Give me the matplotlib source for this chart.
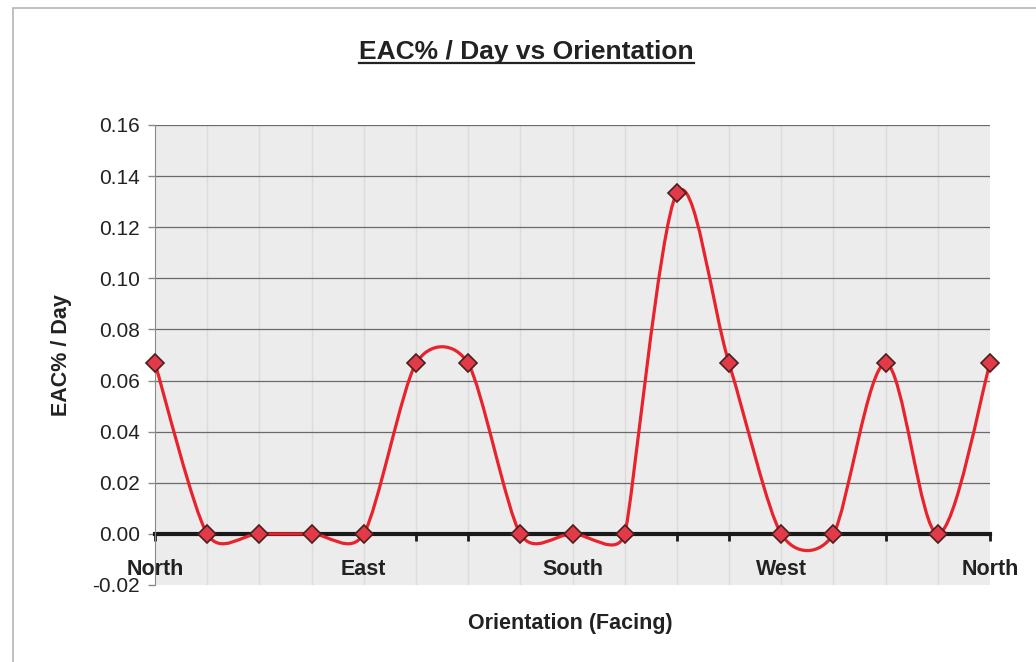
import numpy as np
import matplotlib.pyplot as plt
from matplotlib.path import Path
from matplotlib.patches import PathPatch, Rectangle
from matplotlib.lines import Line2D

# orientation steps (22.5 deg each), North -> North
positions = list(range(17))
eac_per_day = [0.0667, 0.0, 0.0, 0.0, 0.0, 0.0667, 0.0667, 0.0, 0.0, 0.0,
               0.1333, 0.0667, 0.0, 0.0, 0.0667, 0.0, 0.0667]
tick_names = {0: "North", 4: "East", 8: "South", 12: "West", 16: "North"}

plt.rcParams['font.family'] = ['Liberation Sans', 'DejaVu Sans']

X_LIM = (0, 16)
Y_LIM = (-0.02, 0.16)
AX_W, AX_H = 835, 460  # axes size in pixels


def smooth_path(xs, ys):
    # excel-like smoothed line: bezier, arm length limited by neighbouring segments
    sx = AX_W / (X_LIM[1] - X_LIM[0])
    sy = AX_H / (Y_LIM[1] - Y_LIM[0])
    P = np.column_stack([np.asarray(xs, float) * sx, np.asarray(ys, float) * sy])
    n = len(P)
    out_c = np.zeros_like(P)
    in_c = np.zeros_like(P)
    for i in range(n):
        a = P[max(i - 1, 0)]
        b = P[min(i + 1, n - 1)]
        t = b - a
        d02 = np.hypot(*t)
        if d02 == 0:
            out_c[i] = in_c[i] = P[i]
            continue
        lims = [d02 / 6]
        d01 = np.hypot(*(P[i] - a))
        d12 = np.hypot(*(b - P[i]))
        if d01 > 0:
            lims.append(d01 / 2)
        if d12 > 0:
            lims.append(d12 / 2)
        arm = min(lims) * t / d02
        out_c[i] = P[i] + arm
        in_c[i] = P[i] - arm
    verts = [P[0]]
    codes = [Path.MOVETO]
    for i in range(n - 1):
        verts += [out_c[i], in_c[i + 1], P[i + 1]]
        codes += [Path.CURVE4] * 3
    verts = np.array(verts) / [sx, sy]
    return Path(verts, codes)


fig = plt.figure(figsize=(10.36, 6.62), dpi=100)
fig.patch.set_facecolor('white')
fig.add_artist(Rectangle((13 / 1036, -0.1), 1.2, 1 - 8 / 662 + 0.1, transform=fig.transFigure,
                         fill=False, edgecolor='#b5b5b5', linewidth=1.2))

ax = fig.add_axes([155 / 1036, 1 - 585 / 662, AX_W / 1036, AX_H / 662])
ax.set_facecolor('#ececec')
ax.set_xlim(*X_LIM)
ax.set_ylim(*Y_LIM)

yt = np.arange(-0.02, 0.161, 0.02)
ax.set_yticks(yt)
ax.set_yticklabels(["%.2f" % v for v in yt])
for v in yt[2:]:
    ax.axhline(v, color='#6a6a6a', linewidth=0.9, zorder=1)
for p in positions[1:-1]:
    ax.axvline(p, color='#dcdcdc', linewidth=1.0, zorder=0.5)

ax.add_patch(PathPatch(smooth_path(positions, eac_per_day), facecolor='none',
                       edgecolor='#e8232e', linewidth=2.3, zorder=3))
ax.plot(positions, eac_per_day, linestyle='none', marker='D', markersize=9,
        markerfacecolor='#e23a48', markeredgecolor='#4a1f1f', markeredgewidth=1.2,
        zorder=4, clip_on=False)

for s in ['top', 'right']:
    ax.spines[s].set_visible(False)
ax.spines['left'].set_color('#8a8a8a')
ax.spines['bottom'].set_position(('data', 0))
ax.spines['bottom'].set_color('#1a1a1a')
ax.spines['bottom'].set_linewidth(3)
ax.spines['bottom'].set_zorder(2)

ax.set_xticks(positions)
ax.set_xticklabels([tick_names.get(p, "") for p in positions], fontsize=15.5, fontweight='bold', color='#222222')
ax.tick_params(axis='x', direction='out', length=5, width=2, color='#1a1a1a', pad=13)
ax.tick_params(axis='y', direction='out', length=5, width=1, color='#8a8a8a', labelsize=15, labelcolor='#222222', pad=6)

ax.set_ylabel("EAC% / Day", fontsize=15.5, fontweight='bold', color='#222222')
ax.yaxis.set_label_coords(-0.100, 0.5)
ax.set_xlabel("Orientation (Facing)", fontsize=15.5, fontweight='bold', color='#222222')
ax.xaxis.set_label_coords(0.497, -0.06)

title = fig.text(0.508, 1 - 52 / 662, "EAC% / Day vs Orientation", fontsize=19, fontweight='bold',
                 color='#222222', ha='center', va='center')

# underline the title
fig.canvas.draw()
bb = title.get_window_extent()
uy = bb.y0 + 1
fig.add_artist(Line2D([bb.x0 / 1036, bb.x1 / 1036], [uy / 662, uy / 662], transform=fig.transFigure,
                      color='#222222', linewidth=1.6))

fig.savefig("out.png", dpi=100)
